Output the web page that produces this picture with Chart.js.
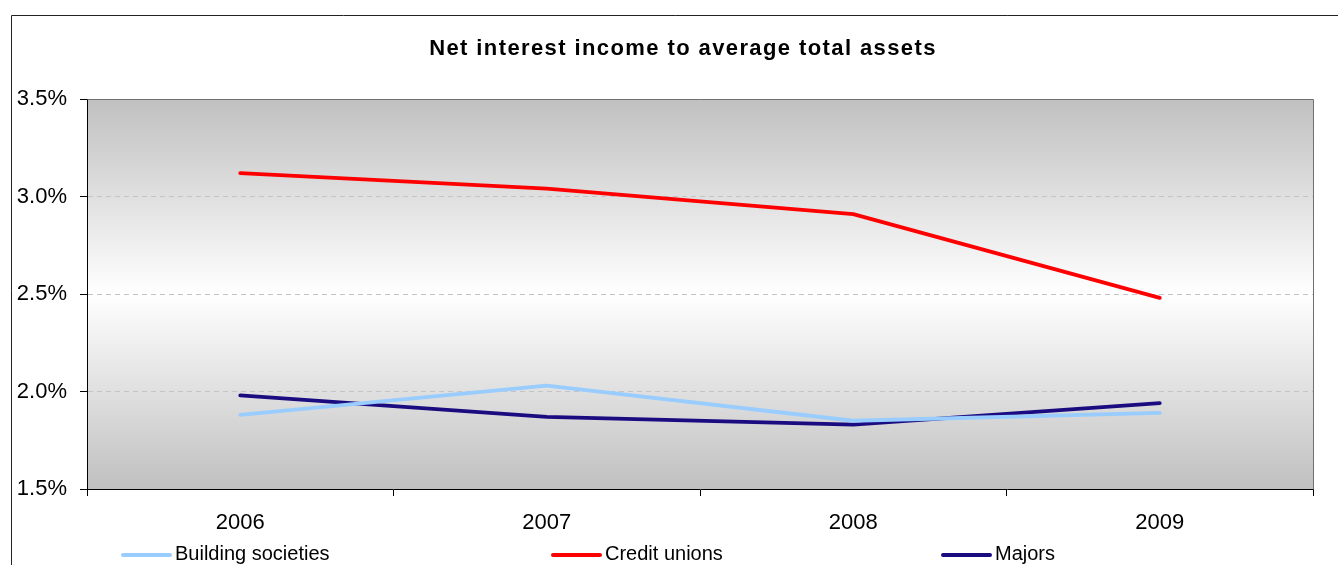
<!DOCTYPE html>
<html>
<head>
<meta charset="utf-8">
<script src="https://cdn.jsdelivr.net/npm/chart.js@4/dist/chart.umd.min.js"></script>
<style>
  html, body { margin: 0; padding: 0; background: #fff; overflow: hidden; }
  #wrap { width: 1338px; height: 565px; position: relative; }
</style>
</head>
<body>
<div id="wrap"><canvas id="c" width="1338" height="565"></canvas></div>
<script>
// Net interest income as a share of average total assets, by sector (%)
const years = ['2006', '2007', '2008', '2009'];
const buildingSocieties = [1.88, 2.03, 1.85, 1.89];
const creditUnions = [3.12, 3.04, 2.91, 2.48];
const majors = [1.98, 1.87, 1.83, 1.94];
const yTicks = [1.5, 2.0, 2.5, 3.0, 3.5];
const chartTitle = 'Net interest income to average total assets';

const FONT = '"Liberation Sans", Arial, sans-serif';

// legend row: start x of each legend swatch
const legendX = [123, 553, 943];
const legendY = 555;

const decorations = {
  id: 'decorations',
  beforeDraw(chart) {
    const { ctx, chartArea: a } = chart;
    ctx.save();
    ctx.fillStyle = '#ffffff';
    ctx.fillRect(0, 0, chart.width, chart.height);
    // plot-area fill: grey at the edges, white through the middle
    const g = ctx.createLinearGradient(0, a.top, 0, a.bottom);
    g.addColorStop(0, '#c0c0c0');
    g.addColorStop(0.5, '#ffffff');
    g.addColorStop(1, '#c0c0c0');
    ctx.fillStyle = g;
    ctx.fillRect(a.left, a.top, a.right - a.left, a.bottom - a.top);
    ctx.restore();
  },
  afterDraw(chart) {
    const { ctx, chartArea: a } = chart;
    ctx.save();
    // top and right edges of the plot frame
    ctx.strokeStyle = '#707070';
    ctx.lineWidth = 1;
    ctx.beginPath();
    ctx.moveTo(Math.round(a.left) + 0.5, Math.round(a.top) + 0.5);
    ctx.lineTo(Math.round(a.right) + 0.5, Math.round(a.top) + 0.5);
    ctx.lineTo(Math.round(a.right) + 0.5, Math.round(a.bottom) + 0.5);
    ctx.stroke();

    // outer chart border
    ctx.strokeStyle = '#222';
    ctx.beginPath();
    ctx.moveTo(11.5, chart.height + 2);
    ctx.lineTo(11.5, 15.5);
    ctx.lineTo(chart.width + 2, 15.5);
    ctx.stroke();

    // title
    ctx.fillStyle = '#000';
    ctx.font = 'bold 22px ' + FONT;
    if ('letterSpacing' in ctx) ctx.letterSpacing = '1.4px';
    ctx.textAlign = 'center';
    ctx.textBaseline = 'middle';
    ctx.fillText(chartTitle, 683, 49);
    if ('letterSpacing' in ctx) ctx.letterSpacing = '0px';

    // legend
    ctx.font = '20px ' + FONT;
    ctx.textAlign = 'left';
    ctx.textBaseline = 'middle';
    chart.data.datasets.forEach((ds, i) => {
      const x0 = legendX[i];
      ctx.strokeStyle = ds.borderColor;
      ctx.lineWidth = 4;
      ctx.lineCap = 'round';
      ctx.beginPath();
      ctx.moveTo(x0, legendY);
      ctx.lineTo(x0 + 47, legendY);
      ctx.stroke();
      ctx.fillStyle = '#000';
      ctx.fillText(ds.label, x0 + 52, legendY - 1);
    });
    ctx.restore();
  }
};

const lineStyle = { borderWidth: 3.8, pointRadius: 0, pointHoverRadius: 0, tension: 0, fill: false, borderCapStyle: 'round', borderJoinStyle: 'round' };

new Chart(document.getElementById('c'), {
  type: 'line',
  data: {
    labels: years,
    datasets: [
      Object.assign({ label: 'Building societies', data: buildingSocieties, borderColor: '#99ccff' }, lineStyle),
      Object.assign({ label: 'Credit unions', data: creditUnions, borderColor: '#ff0000' }, lineStyle),
      Object.assign({ label: 'Majors', data: majors, borderColor: '#1a0c80' }, lineStyle)
    ]
  },
  options: {
    responsive: false,
    animation: false,
    devicePixelRatio: 1,
    layout: { padding: { left: 0, top: 99, right: 25, bottom: 0 } },
    plugins: {
      legend: { display: false },
      title: { display: false },
      tooltip: { enabled: false }
    },
    scales: {
      x: {
        type: 'category',
        offset: true,
        grid: { offset: true, drawOnChartArea: false, tickColor: '#000', tickLength: 7, lineWidth: 1 },
        border: { color: '#000', width: 1 },
        ticks: { color: '#000', font: { family: FONT, size: 22 }, padding: 14, maxRotation: 0 },
        afterFit(s) { s.height = 76; }
      },
      y: {
        min: 1.5,
        max: 3.5,
        afterBuildTicks(s) { s.ticks = yTicks.map(v => ({ value: v })); },
        grid: {
          color: c => (c.tick && (c.tick.value === yTicks[0] || c.tick.value === yTicks[yTicks.length - 1])) ? 'rgba(0,0,0,0)' : '#c4c4c4',
          tickColor: '#000',
          tickLength: 7,
          lineWidth: 1
        },
        border: { color: '#000', width: 1, dash: [5, 4] },
        ticks: { color: '#000', font: { family: FONT, size: 22 }, padding: 13, callback: v => Number(v).toFixed(1) + '%' },
        afterFit(s) { s.width = 87; }
      }
    }
  },
  plugins: [decorations]
});
</script>
</body>
</html>
